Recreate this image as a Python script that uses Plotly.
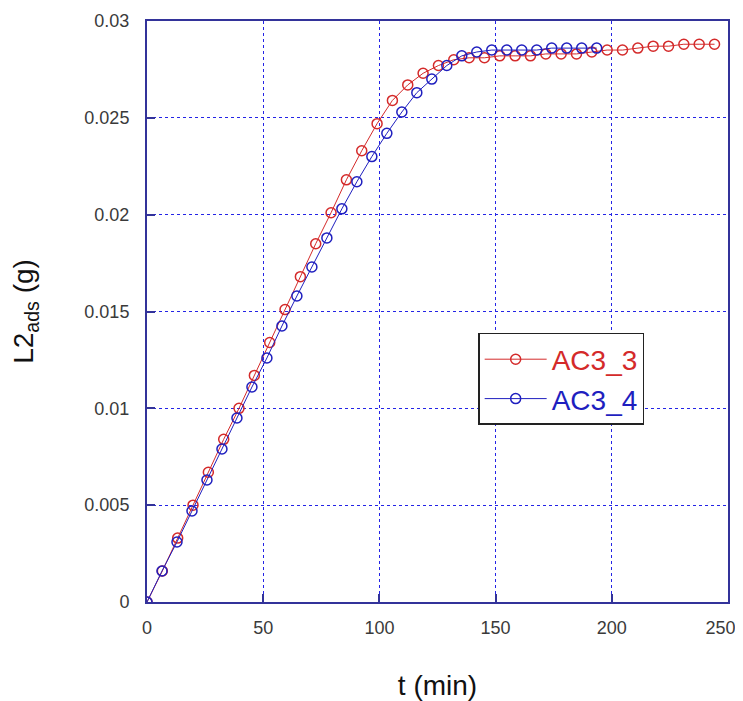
import plotly.graph_objects as go

# Series AC3_3 (red)
t_ac3_3 = [0, 6.6, 13.2, 19.8, 26.4, 33.0, 39.6, 46.2, 52.8, 59.4, 66.0, 72.6, 79.2,
           85.8, 92.4, 99.0, 105.6, 112.2, 118.8, 125.4, 132.0, 138.6, 145.2, 151.8,
           158.4, 165.0, 171.6, 178.2, 184.8, 191.4, 198.0, 204.6, 211.2, 217.8,
           224.4, 231.0, 237.6, 244.2]
y_ac3_3 = [0, 0.0016, 0.0033, 0.0050, 0.0067, 0.0084, 0.0100, 0.0117, 0.0134, 0.0151,
           0.0168, 0.0185, 0.0201, 0.0218, 0.0233, 0.0247, 0.0259, 0.0267, 0.0273,
           0.0277, 0.0280, 0.0281, 0.0281, 0.0282, 0.0282, 0.0282, 0.0283, 0.0283,
           0.0283, 0.0284, 0.0285, 0.0285, 0.0286, 0.0287, 0.0287, 0.0288, 0.0288, 0.0288]

# Series AC3_4 (blue)
t_ac3_4 = [0, 6.45, 12.9, 19.35, 25.8, 32.25, 38.7, 45.15, 51.6, 58.05, 64.5, 70.95,
           77.4, 83.85, 90.3, 96.75, 103.2, 109.65, 116.1, 122.55, 129.0, 135.45,
           141.9, 148.35, 154.8, 161.25, 167.7, 174.15, 180.6, 187.05, 193.5]
y_ac3_4 = [0, 0.0016, 0.0031, 0.0047, 0.0063, 0.0079, 0.0095, 0.0111, 0.0126, 0.01425,
           0.0158, 0.0173, 0.0188, 0.0203, 0.0217, 0.0230, 0.0242, 0.0253, 0.0263,
           0.0270, 0.0277, 0.0282, 0.0284, 0.0285, 0.0285, 0.0285, 0.0285, 0.0286,
           0.0286, 0.0286, 0.0286]

x_ticks = [0, 50, 100, 150, 200, 250]
# last label padded with no-break spaces so it stays inside the window edge
x_tick_labels = ["0", "50", "100", "150", "200", "250\u00a0\u00a0\u00a0"]
y_ticks = [0, 0.005, 0.01, 0.015, 0.02, 0.025, 0.03]
y_tick_labels = ["0", "0.005", "0.01", "0.015", "0.02", "0.025", "0.03"]

RED = "#d42a2a"
BLUE = "#1f1fbf"
AXIS = "#33339a"
GRID = "#2424e6"
FONT = "Liberation Sans, Arial, sans-serif"

fig = go.Figure()
fig.add_trace(go.Scatter(
    x=t_ac3_3, y=y_ac3_3, mode="lines+markers",
    name=f"<span style='color:{RED}'>AC3_3</span>",
    line=dict(color=RED, width=1),
    marker=dict(symbol="circle-open", size=10, color=RED, line=dict(width=1.5, color=RED)),
))
fig.add_trace(go.Scatter(
    x=t_ac3_4, y=y_ac3_4, mode="lines+markers",
    name=f"<span style='color:{BLUE}'>AC3_4</span>",
    line=dict(color=BLUE, width=1),
    marker=dict(symbol="circle-open", size=10, color=BLUE, line=dict(width=1.5, color=BLUE)),
))

axis_common = dict(
    showline=True, linecolor=AXIS, linewidth=2, mirror=True,
    showgrid=True, gridcolor=GRID, gridwidth=1, griddash="dot",
    ticks="inside", ticklen=8, tickwidth=1.5, tickcolor=AXIS,
    zeroline=False, automargin=False, ticklabeloverflow="allow",
    tickfont=dict(family=FONT, size=18, color="#3a3a3a"),
)

# the page body has an 8px default margin, so the figure is offset accordingly
fig.update_layout(
    width=735, height=693,
    margin=dict(l=139, r=15, t=13, b=99),
    paper_bgcolor="white", plot_bgcolor="white",
    font=dict(family=FONT, color="#111111"),
    xaxis=dict(range=[0, 250], tickvals=x_ticks, ticktext=x_tick_labels, ticklabelstandoff=8,
               title=dict(text="t (min)", font=dict(family=FONT, size=28, color="#111111"), standoff=41),
               **axis_common),
    yaxis=dict(range=[0, 0.03], tickvals=y_ticks, ticktext=y_tick_labels, ticklabelstandoff=12,
               title=dict(text="L2<sub>ads</sub> (g)", font=dict(family=FONT, size=28, color="#111111"), standoff=45),
               **axis_common),
    legend=dict(x=0.57, y=0.463, xanchor="left", yanchor="top",
                bgcolor="white", bordercolor="#222222", borderwidth=1.5,
                font=dict(family=FONT, size=28), itemwidth=62,
                tracegroupgap=0),
    showlegend=True,
)

fig.write_html("out.html")
